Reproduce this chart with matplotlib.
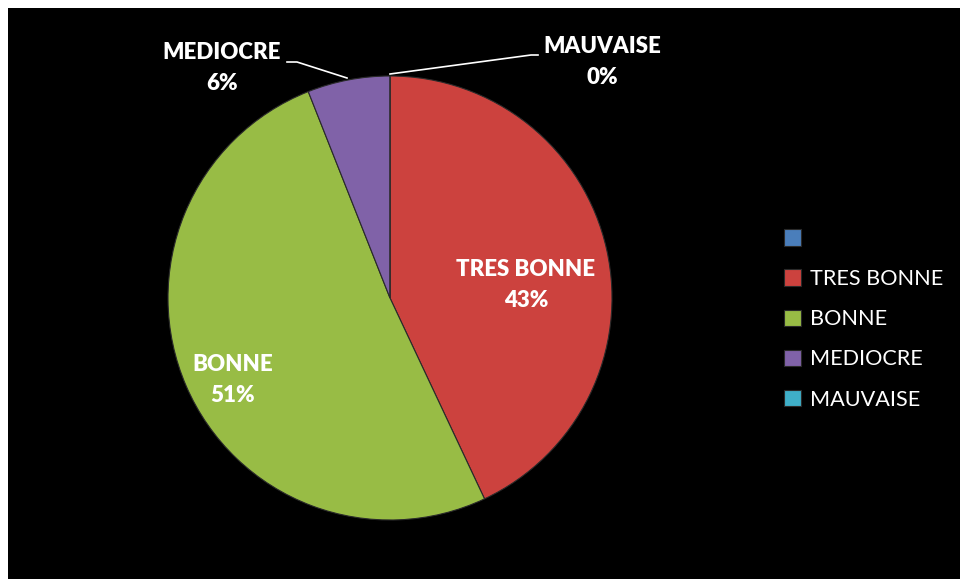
import matplotlib
matplotlib.use("Agg")
import matplotlib.pyplot as plt

categories = ["", "TRES BONNE", "BONNE", "MEDIOCRE", "MAUVAISE"]
values = [0, 43, 51, 6, 0]
pct_labels = ["", "43%", "51%", "6%", "0%"]
colors = ["#4A7EBB", "#CC423E", "#98BC45", "#8062A8", "#3FAFC8"]

W, H = 960, 579
fig = plt.figure(figsize=(W / 100, H / 100), dpi=100)
fig.patch.set_facecolor("white")

bg = fig.add_axes([8 / W, 0, 1 - 8 / W, (H - 8) / H], zorder=-5)
bg.set_facecolor("black")
bg.set_xticks([])
bg.set_yticks([])
for s in bg.spines.values():
    s.set_visible(False)

ax = fig.add_axes([0, 0, 1, 1], zorder=1)
ax.patch.set_alpha(0)

cx, cy, r = 390, H - 298, 222
wedges, _ = ax.pie(values, colors=colors, startangle=90, counterclock=False,
                   center=(cx, cy), radius=r, frame=True,
                   wedgeprops=dict(edgecolor="#2a2a2a", linewidth=0.8))
ax.set_xlim(0, W)
ax.set_ylim(0, H)
ax.set_aspect("equal")
ax.axis("off")

font = dict(family=["Lato", "DejaVu Sans"], fontweight="heavy", color="white",
            fontsize=16, ha="center", va="center", linespacing=1.6)
ax.text(526, H - 285, f"{categories[1]}\n{pct_labels[1]}", **font)
ax.text(233, H - 380, f"{categories[2]}\n{pct_labels[2]}", **font)
ax.text(222, H - 68, f"{categories[3]}\n{pct_labels[3]}", **font)
ax.text(602, H - 62, f"{categories[4]}\n{pct_labels[4]}", **font)

ax.plot([287, 297, 347], [H - 62, H - 62, H - 78], color="white", lw=1.2)
ax.plot([390, 531, 538], [H - 74, H - 55, H - 55], color="white", lw=1.2)

leg = ax.legend(wedges, categories, loc="upper left",
                bbox_to_anchor=(784 / W, 1 - 229 / H), bbox_transform=fig.transFigure,
                frameon=False, borderpad=0, borderaxespad=0,
                handlelength=0.78, handleheight=0.78, handletextpad=0.42,
                labelspacing=0.93, prop=dict(family=["Lato", "DejaVu Sans"], size=15.6))
for t in leg.get_texts():
    t.set_color("white")

fig.savefig("out.png", dpi=100, facecolor=fig.get_facecolor())
